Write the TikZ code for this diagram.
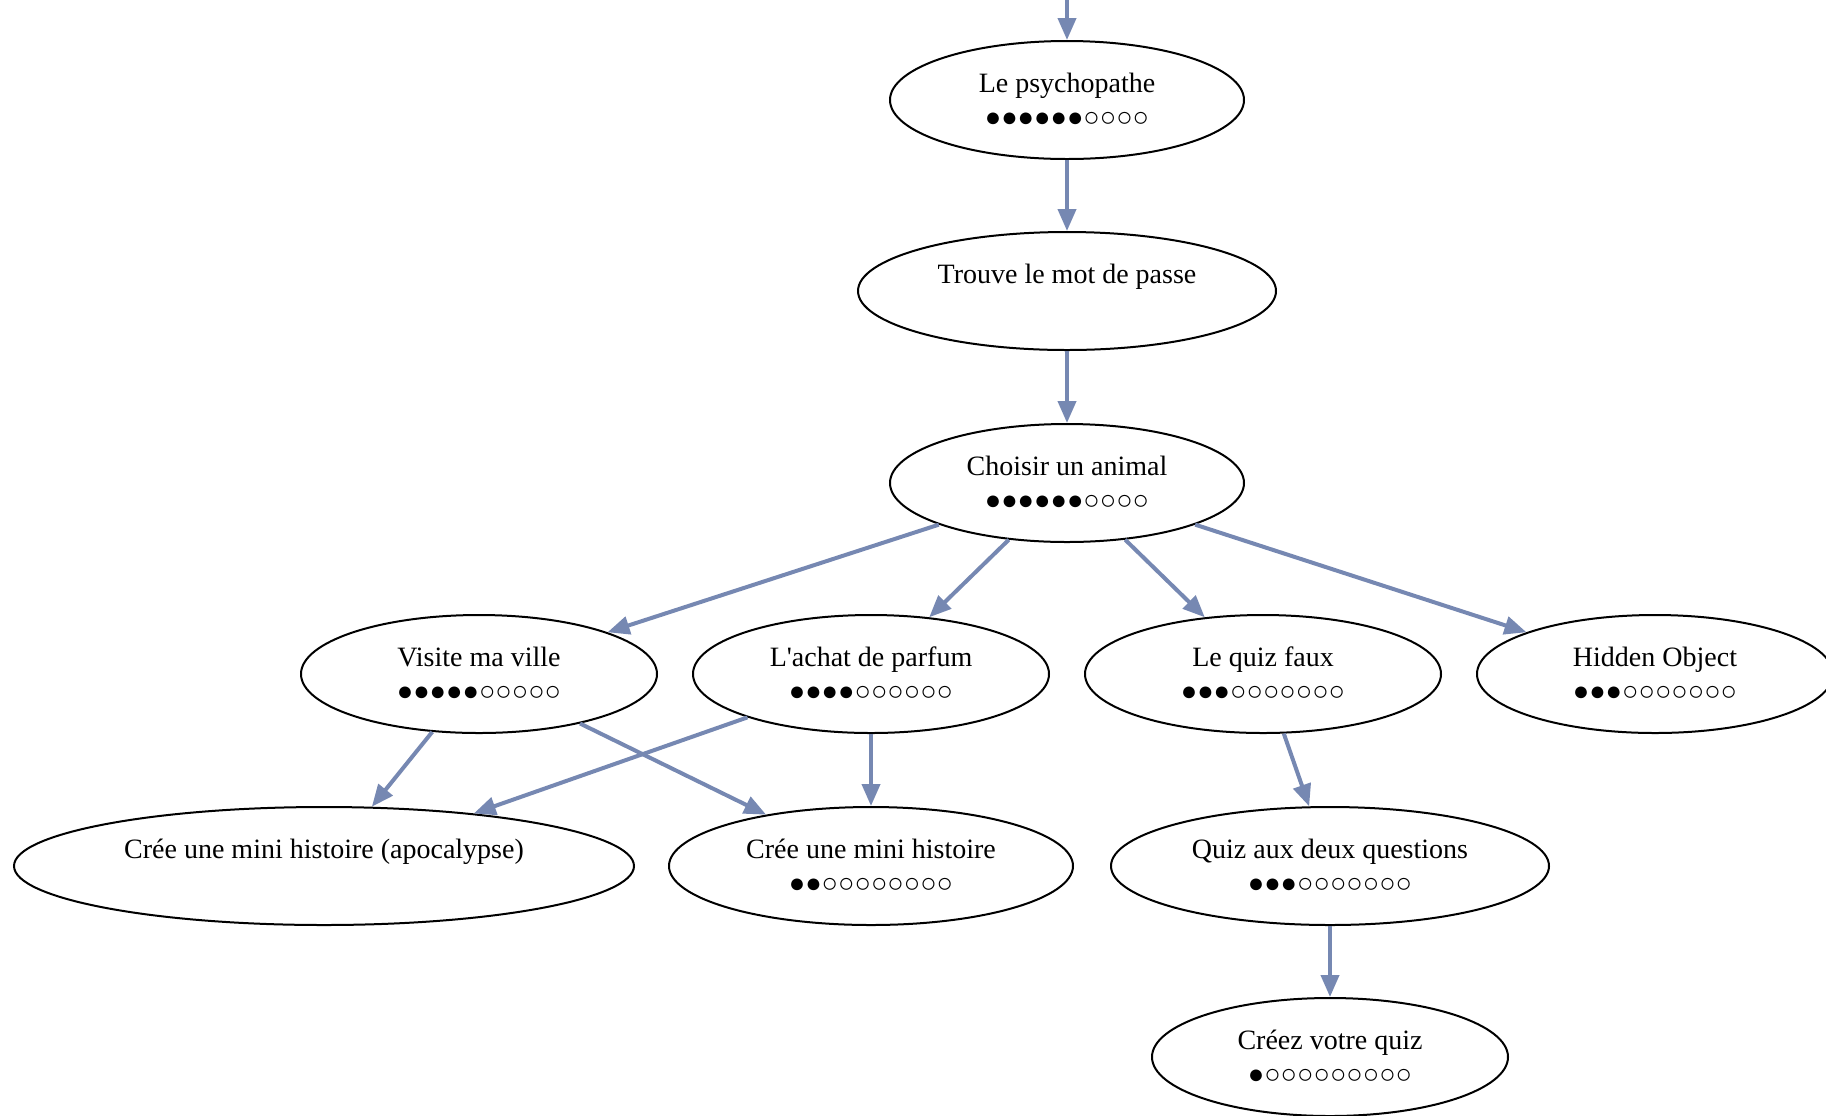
\documentclass[tikz,border=0pt]{standalone}
\usepackage{fontspec}
\setmainfont{Liberation Serif}
\usepackage{tikz}
\usetikzlibrary{arrows.meta,shapes.geometric}
\definecolor{edgeblue}{RGB}{118,136,178}
\newcommand{\pts}[1]{{\fontsize{13.6}{17}\selectfont #1}}
\newcommand{\nopts}{\phantom{\pts{●}}}

\begin{document}
\begin{tikzpicture}[x=0.5pt,y=-0.5pt,
    jeu/.style={draw, ellipse, line width=1pt, inner sep=0pt, minimum height=59pt,
      align=center, font=\fontsize{14}{17}\selectfont},
    lien/.style={draw=edgeblue, line width=2pt}]
    \useasboundingbox (0,0) rectangle (1826,1115);

    \node[jeu, minimum width=177pt] (psycho) at (1067,100) {Le psychopathe\\\pts{●●●●●●○○○○}};
    \node[jeu, minimum width=209pt] (motpasse) at (1067,291) {Trouve le mot de passe\\\nopts};
    \node[jeu, minimum width=177pt] (animal) at (1067,483) {Choisir un animal\\\pts{●●●●●●○○○○}};

    \node[jeu, minimum width=178pt] (ville) at (479,674) {Visite ma ville\\\pts{●●●●●○○○○○}};
    \node[jeu, minimum width=178pt] (parfum) at (871,674) {L\textquotesingle achat de parfum\\\pts{●●●●○○○○○○}};
    \node[jeu, minimum width=178pt] (quizfaux) at (1263,674) {Le quiz faux\\\pts{●●●○○○○○○○}};
    \node[jeu, minimum width=178pt] (hidden) at (1655,674) {Hidden Object\\\pts{●●●○○○○○○○}};

    \node[jeu, minimum width=310pt] (apoc) at (324,866) {Crée une mini histoire (apocalypse)\\\nopts};
    \node[jeu, minimum width=202pt] (histoire) at (871,866) {Crée une mini histoire\\\pts{●●○○○○○○○○}};
    \node[jeu, minimum width=219pt] (deuxq) at (1330,866) {Quiz aux deux questions\\\pts{●●●○○○○○○○}};
    \node[jeu, minimum width=178pt] (votrequiz) at (1330,1057) {Créez votre quiz\\\pts{●○○○○○○○○○}};

    \coordinate (entree) at (1067,0);

    \draw [-{Triangle[length=11pt,width=9pt]}][lien] (entree) -- (psycho);
    \draw [-{Triangle[length=11pt,width=9pt]}][lien] (psycho) -- (motpasse);
    \draw [-{Triangle[length=11pt,width=9pt]}][lien] (motpasse) -- (animal);
    \draw [-{Triangle[length=11pt,width=9pt]}][lien] (animal) -- (ville);
    \draw [-{Triangle[length=11pt,width=9pt]}][lien] (animal) -- (parfum);
    \draw [-{Triangle[length=11pt,width=9pt]}][lien] (animal) -- (quizfaux);
    \draw [-{Triangle[length=11pt,width=9pt]}][lien] (animal) -- (hidden);
    \draw [-{Triangle[length=11pt,width=9pt]}][lien] (ville) -- (apoc);
    \draw [-{Triangle[length=11pt,width=9pt]}][lien] (ville) -- (histoire);
    \draw [-{Triangle[length=11pt,width=9pt]}][lien] (parfum) -- (apoc);
    \draw [-{Triangle[length=11pt,width=9pt]}][lien] (parfum) -- (histoire);
    \draw [-{Triangle[length=11pt,width=9pt]}][lien] (quizfaux) -- (deuxq);
    \draw [-{Triangle[length=11pt,width=9pt]}][lien] (deuxq) -- (votrequiz);
\end{tikzpicture}
\end{document}
